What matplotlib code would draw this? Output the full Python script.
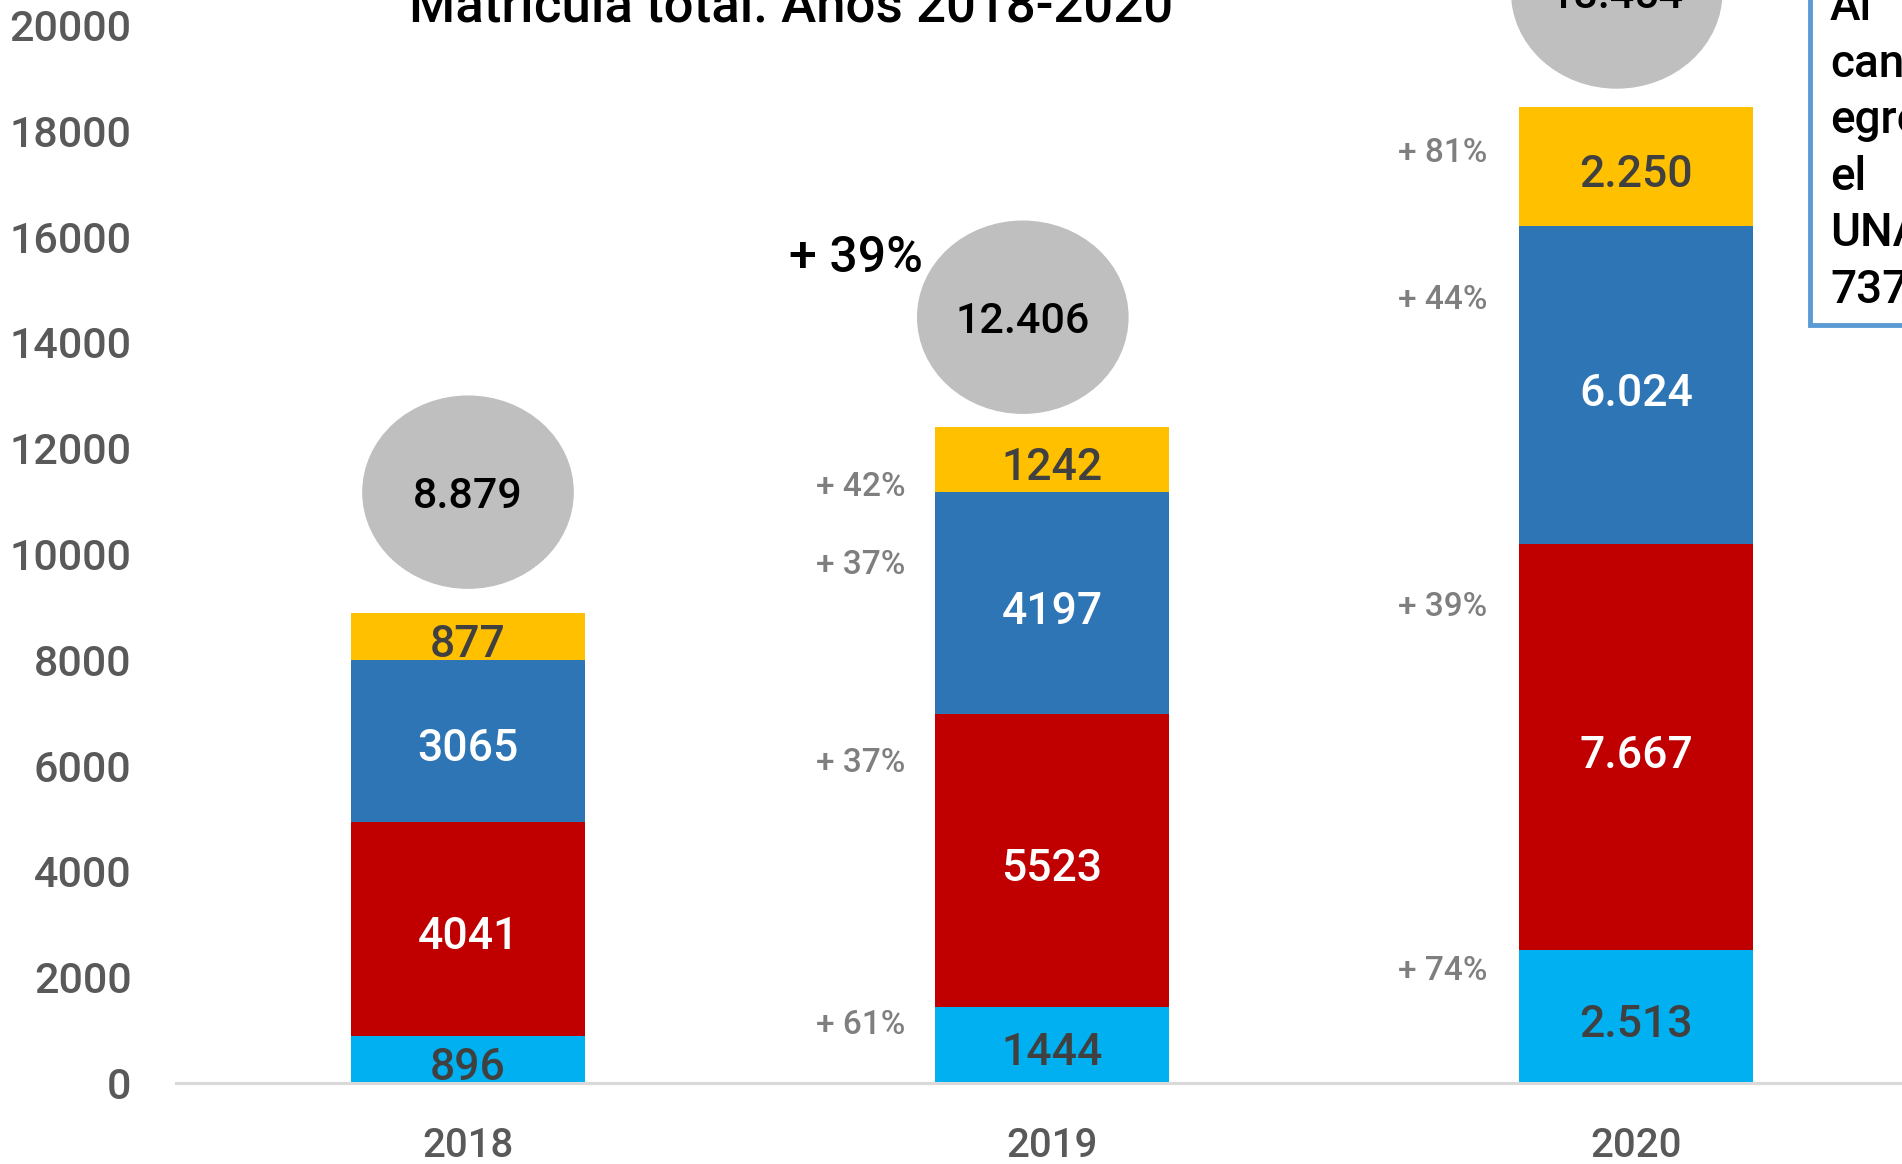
import matplotlib.pyplot as plt
from matplotlib.patches import Ellipse, Rectangle

plt.rcParams['font.family'] = ['Roboto', 'DejaVu Sans']
plt.rcParams['font.weight'] = 'medium'

# Datos: matrícula por segmento (de abajo hacia arriba)
years = ['2018', '2019', '2020']
celeste = [896, 1444, 2513]
rojo = [4041, 5523, 7667]
azul = [3065, 4197, 6024]
amarillo = [877, 1242, 2250]
totales = [8879, 12406, 18454]

# Crecimiento respecto al año anterior (celeste, rojo, azul, amarillo)
crec_2019 = [61, 37, 37, 42]
crec_2020 = [74, 39, 44, 81]
crec_total_2019 = 39

texto_caja = ['Al', 'cantidad', 'egresados', 'el', 'UNA', '737']

colores = ['#00B0F0', '#C00000', '#2E75B6', '#FFC000']
color_texto = ['#404040', 'white', 'white', '#404040']

fig = plt.figure(figsize=(19.02, 11.64), dpi=100)
ax = fig.add_axes([176 / 1902, 81 / 1164, 1752 / 1902, 1058 / 1164])

x = range(len(years))
series = [celeste, rojo, azul, amarillo]
base = [0, 0, 0]
for serie, col, tcol in zip(series, colores, color_texto):
    bars = ax.bar(x, serie, width=0.4, bottom=base, color=col, zorder=2)
    for i, (rect, v) in enumerate(zip(bars, serie)):
        etiqueta = f'{v:,}'.replace(',', '.') if years[i] == '2020' else str(v)
        ax.annotate(etiqueta, (rect.get_x() + rect.get_width() / 2,
                               rect.get_y() + rect.get_height() / 2),
                    xytext=(0, -3), textcoords='offset points',
                    ha='center', va='center_baseline', fontsize=32, color=tcol)
    base = [b + v for b, v in zip(base, serie)]

# Totales en elipses grises
desp_x = [0, -0.05, -0.033]
desp_y = [2290, 2070, 2170]
for i, t in enumerate(totales):
    cx, cy = i + desp_x[i], t + desp_y[i]
    ax.add_patch(Ellipse((cx, cy), 0.36, 3630, color='#BFBFBF', zorder=3, clip_on=False))
    ax.text(cx, cy, f'{t:,}'.replace(',', '.'), ha='center', va='center_baseline',
            fontsize=31, color='black', zorder=4)

ax.text(0.664, 15690, f'+ {crec_total_2019}%', ha='center', va='center_baseline',
        fontsize=36, color='black')

# Porcentajes de crecimiento por segmento
pos_2019 = [1170, 6120, 9850, 11340]
pos_2020 = [2190, 9070, 14860, 17640]
for p, yy in zip(crec_2019, pos_2019):
    ax.text(0.673, yy, f'+ {p}%', ha='center', va='center_baseline', fontsize=24, color='#7F7F7F')
for p, yy in zip(crec_2020, pos_2020):
    ax.text(1.669, yy, f'+ {p}%', ha='center', va='center_baseline', fontsize=24, color='#7F7F7F')

ax.set_xlim(-0.5, 2.5)
ax.set_ylim(0, 20000)
ax.set_yticks(range(0, 20001, 2000))
ax.set_xticks(list(x))
ax.set_xticklabels(years)
ax.tick_params(axis='y', length=0, pad=32, labelsize=31, labelcolor='#595959')
ax.tick_params(axis='x', length=0, pad=32, labelsize=29, labelcolor='#595959')
for s in ['top', 'right', 'left']:
    ax.spines[s].set_visible(False)
ax.spines['bottom'].set_color('#D9D9D9')
ax.spines['bottom'].set_linewidth(2.2)

fig.text(791 / 1902, 1 - 21 / 1164, 'Matrícula total. Años 2018-2020',
         ha='center', va='baseline', fontsize=38, color='black')

# Recuadro de texto a la derecha (recortado por el borde)
fig.add_artist(Rectangle((1810 / 1902, 1 - 325 / 1164), 0.1, 0.35, transform=fig.transFigure,
                         facecolor='white', edgecolor='#5B9BD5', linewidth=3.5))
for k, linea in enumerate(texto_caja):
    fig.text(1830 / 1902, 1 - (3 + 56.5 * k) / 1164, linea, ha='left', va='center_baseline',
             fontsize=33, color='black')

fig.savefig('out.png', dpi=100)
